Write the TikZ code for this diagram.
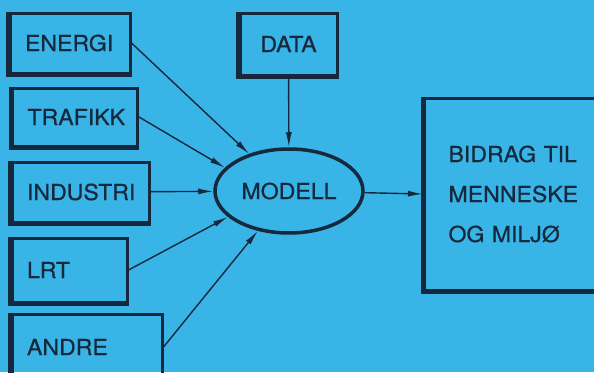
\documentclass[tikz,border=0pt]{standalone}
\usepackage{fontspec}
\setmainfont{TeX Gyre Heros}[FakeStretch=1.05, FakeBold=0.6]
\usetikzlibrary{shapes.geometric,arrows.meta}
\definecolor{sky}{RGB}{56,180,230}
\definecolor{ink}{RGB}{22,40,60}
\uchyph=0
\tikzset{
  heavyedge/.style={append after command={
    (\tikzlastnode.north west) edge[draw=ink, line width=5pt, -] ([yshift=-2.5pt]\tikzlastnode.south west)
    ([xshift=-2.5pt]\tikzlastnode.south west) edge[draw=ink, line width=5pt, -] (\tikzlastnode.south east)}}
}
\begin{document}
\begin{tikzpicture}[x=1pt,y=-1pt]
\clip (0,0) rectangle (594,372);
\fill[sky] (0,0) rectangle (594,372);
\begin{scope}[every node/.style = {rectangle, draw=ink, line width=3pt, text=ink, inner xsep=15pt, font=\fontsize{22}{26}\selectfont}]
\node[heavyedge, minimum width=120pt, minimum height=60pt, text width=90pt, align=left] (energi) at (70,43) {ENERGI};
\node[heavyedge, minimum width=125pt, minimum height=58pt, text width=95pt, align=left] (trafikk) at (75,117) {TRAFIKK};
\node[heavyedge, minimum width=137pt, minimum height=60pt, text width=107pt, align=left] (industri) at (80.5,192) {INDUSTRI};
\node[heavyedge, minimum width=115pt, minimum height=64pt, text width=85pt, align=left] (lrt) at (69.5,270) {LRT};
\node[heavyedge, minimum width=150pt, minimum height=66pt, text width=120pt, align=left] (andre) at (87,347) {ANDRE};
\node[heavyedge, minimum width=97pt, minimum height=62pt] (data) at (288.5,44) {DATA};
\node[heavyedge, anchor=west, minimum width=190pt, minimum height=192pt, text width=150pt,
  inner xsep=24pt, align=left, font=\fontsize{22}{40}\selectfont] (bidrag) at (423,194)
  {BIDRAG TIL\\MENNESKE\\OG MILJØ};
\node[ellipse, line width=3.5pt, inner sep=0pt, minimum width=148pt, minimum height=84pt] (modell) at (289,191) {MODELL};
\end{scope}
\begin{scope}[every edge/.style = {draw=ink, line width=1.4pt, -{Latex[length=15pt,width=6pt]}}]
\path (energi.east) edge (modell.137);
\path (trafikk.east) edge (modell.160);
\path (industri) edge (modell);
\path (lrt.east) edge (modell.203);
\path (andre.east) edge (modell.232);
\path (data) edge (modell);
\path (modell) edge (bidrag.west);
\end{scope}
\end{tikzpicture}
\end{document}
